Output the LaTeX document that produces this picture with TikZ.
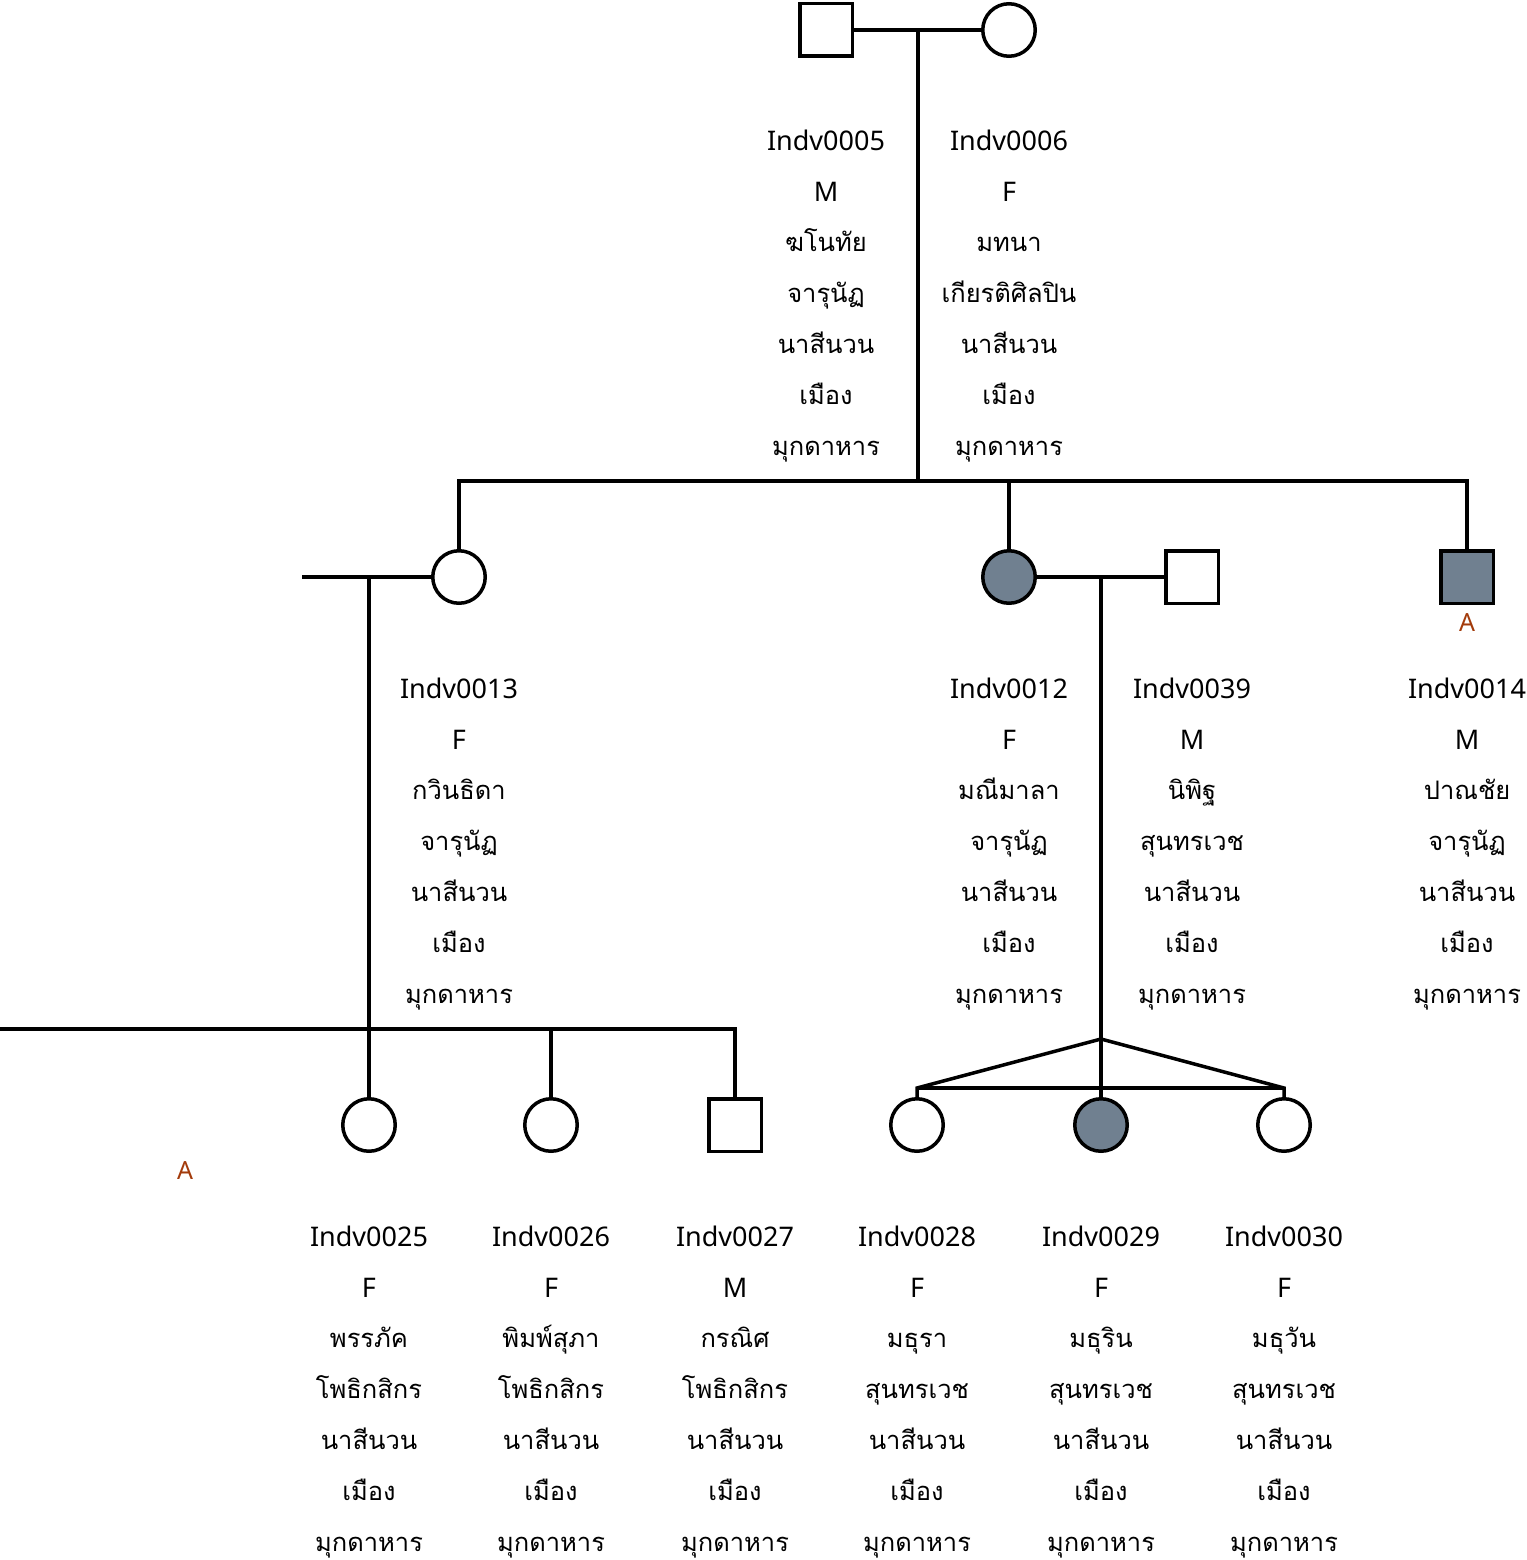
\documentclass[tikz,border=0pt]{standalone}
\usepackage{fontspec}
\setmainfont{Noto Sans}
\newfontfamily\thaifont[Script=Thai]{Loma}
\usetikzlibrary{positioning,calc}
\definecolor{affgray}{HTML}{708090}
\definecolor{markbrown}{HTML}{A33B0B}
\tikzstyle{indv}=[draw,line width=3.5pt,minimum size=52.5pt,inner sep=0pt,outer sep=0pt,fill=white]
\tikzstyle{male}=[indv,rectangle]
\tikzstyle{female}=[indv,circle]
\tikzstyle{affected}=[fill=affgray]
\tikzstyle{line}=[line width=3.5pt]
\tikzstyle{info}=[align=center,anchor=base,inner sep=0pt,font=\fontsize{27}{50.8}\selectfont]
\tikzstyle{aflabel}=[text=markbrown,inner sep=0pt,font=\fontsize{25}{30}\selectfont]
\newcommand{\thtext}{\thaifont\fontsize{25.5}{50.8}\selectfont}
\newcommand{\indvtext}[4]{#1\\#2\\\thtext #3\\\thtext #4\\\thtext นาสีนวน\\\thtext เมือง\\\thtext มุกดาหาร}

\begin{document}
\begin{tikzpicture}[x=1pt,y=-1pt]
\useasboundingbox (0,0) rectangle (1526,1560);

% generation 1
\node (p05) [male] at (826,30) {};
\node (p06) [female] at (1009,30) {};
% generation 2
\node (p13) [female] at (459,577) {};
\node (p12) [female,affected] at (1009,577) {};
\node (p39) [male] at (1192,577) {};
\node (p14) [male,affected] at (1467,577) {};
% generation 3
\node (p25) [female] at (369,1125) {};
\node (p26) [female] at (551,1125) {};
\node (p27) [male] at (735,1125) {};
\node (p28) [female] at (917,1125) {};
\node (p29) [female,affected] at (1101,1125) {};
\node (p30) [female] at (1284,1125) {};

% texts (base = last line)
\node (t05) [info] at (826,455) {\indvtext{Indv0005}{M}{ฆโนทัย}{จารุนัฏ}};
\node (t06) [info] at (1009,455) {\indvtext{Indv0006}{F}{มทนา}{เกียรติศิลปิน}};
\node (t13) [info] at (459,1003) {\indvtext{Indv0013}{F}{กวินธิดา}{จารุนัฏ}};
\node (t12) [info] at (1009,1003) {\indvtext{Indv0012}{F}{มณีมาลา}{จารุนัฏ}};
\node (t39) [info] at (1192,1003) {\indvtext{Indv0039}{M}{นิพิฐ}{สุนทรเวช}};
\node (t14) [info] at (1467,1003) {\indvtext{Indv0014}{M}{ปาณชัย}{จารุนัฏ}};
\node (t25) [info] at (369,1551) {\indvtext{Indv0025}{F}{พรรภัค}{โพธิกสิกร}};
\node (t26) [info] at (551,1551) {\indvtext{Indv0026}{F}{พิมพ์สุภา}{โพธิกสิกร}};
\node (t27) [info] at (735,1551) {\indvtext{Indv0027}{M}{กรณิศ}{โพธิกสิกร}};
\node (t28) [info] at (917,1551) {\indvtext{Indv0028}{F}{มธุรา}{สุนทรเวช}};
\node (t29) [info] at (1101,1551) {\indvtext{Indv0029}{F}{มธุริน}{สุนทรเวช}};
\node (t30) [info] at (1284,1551) {\indvtext{Indv0030}{F}{มธุวัน}{สุนทรเวช}};

\node (a14) [aflabel] at (1467,623) {A};
\node (a00) [aflabel] at (185,1171) {A};

% family 1
\coordinate (m1) at (918,30);
\coordinate (sib1) at (918,481);
\draw [line] (p05) -- (p06);
\draw [line] (m1) -- (sib1);
\draw [line] (p13.north) -- (p13 |- sib1) -- (p14 |- sib1) -- (p14.north);
\draw [line] (p12.north) -- (p12 |- sib1);

% family 2
\coordinate (sp13) at (302,577);
\coordinate (m2) at (369,577);
\coordinate (sib2) at (369,1029);
\coordinate (sib2end) at (0,1029);
\draw [line] (sp13) -- (p13);
\draw [line] (m2) -- (p25.north);
\draw [line] (sib2end) -- (p27 |- sib2) -- (p27.north);
\draw [line] (p26.north) -- (p26 |- sib2);

% family 3, triplets
\coordinate (m3) at (1101,577);
\coordinate (apex) at (1101,1039);
\coordinate (bar3) at (1101,1088);
\draw [line] (p12) -- (p39);
\draw [line] (m3) -- (p29.north);
\draw [line] (p28.north) -- (p28 |- bar3) -- (apex) -- (p30 |- bar3) -- (p30.north);
\draw [line] (p28 |- bar3) -- (p30 |- bar3);

\end{tikzpicture}
\end{document}
